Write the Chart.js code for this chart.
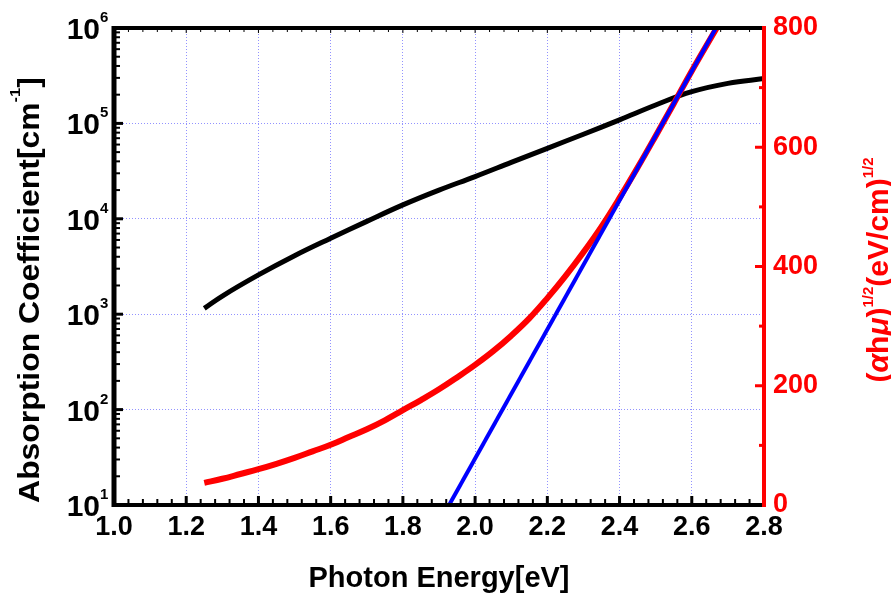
<!DOCTYPE html>
<html>
<head>
<meta charset="utf-8">
<script src="https://cdn.jsdelivr.net/npm/chart.js@4.4.0/dist/chart.umd.min.js"></script>
<style>
  body { margin: 0; background: #fff; }
  canvas { display: block; }
</style>
</head>
<body>
<canvas id="myChart" width="891" height="599"></canvas>
<script>
// tick labels
var xTicks = [1.0, 1.2, 1.4, 1.6, 1.8, 2.0, 2.2, 2.4, 2.6, 2.8];
var leftExponents = [1, 2, 3, 4, 5, 6];
var rightTicks = [0, 200, 400, 600, 800];

// absorption coefficient (left, log axis)
var absEnergy = [1.25, 1.3, 1.4, 1.5, 1.6, 1.7, 1.8, 1.9, 2.0, 2.1, 2.2, 2.3, 2.4, 2.5, 2.6, 2.7, 2.8];
var absCoeff = [1.15e3, 1.55e3, 2.58e3, 4.1e3, 6.25e3, 9.4e3, 1.40e4, 2.0e4, 2.77e4, 3.9e4, 5.48e4, 7.7e4, 1.09e5, 1.56e5, 2.15e5, 2.63e5, 2.95e5];

// (ahv)^1/2 (right axis)
var taucEnergy = [1.25, 1.3, 1.35, 1.4, 1.45, 1.5, 1.55, 1.6, 1.65, 1.7, 1.75, 1.8, 1.85, 1.9, 1.95, 2.0,
    2.05, 2.1, 2.15, 2.2, 2.25, 2.3, 2.35, 2.4, 2.45, 2.5, 2.55, 2.6, 2.669];
var taucValue = [37, 44, 52, 60, 69, 79, 90, 101, 114, 127, 142, 159, 176, 194, 214, 235,
    258, 284, 313, 347, 384, 424, 467, 515, 566, 619, 673, 728, 800];

// linear fit
var fitEnergy = [1.928, 2.667];
var fitValue = [0, 800];

var FONT = '"Liberation Sans", Arial, sans-serif';
var GRID = 'rgba(110,110,255,0.75)';

function pts(xs, ys) {
    var out = [];
    for (var i = 0; i < xs.length; i++) out.push({ x: xs[i], y: ys[i] });
    return out;
}

function drawSegments(ctx, segs) {
    var total = 0;
    segs.forEach(function (s) { ctx.font = s.f; s.w = ctx.measureText(s.t).width; total += s.w; });
    var x = -total / 2;
    segs.forEach(function (s) {
        ctx.font = s.f;
        ctx.fillText(s.t, x, s.dy || 0);
        x += s.w;
    });
}

var framePlugin = {
    id: 'frame',
    afterDatasetsDraw: function (chart) {
        var ctx = chart.ctx, a = chart.chartArea;
        var sx = chart.scales.x, yl = chart.scales.y, yr = chart.scales.y2;
        ctx.save();
        function tick(x1, y1, x2, y2, w) {
            ctx.lineWidth = w;
            ctx.beginPath(); ctx.moveTo(x1, y1); ctx.lineTo(x2, y2); ctx.stroke();
        }
        ctx.strokeStyle = '#000';
        // x ticks (inside)
        for (var i = 0; i <= 45; i++) {
            var px = sx.getPixelForValue(1 + i * 0.04);
            var major = i % 5 === 0;
            tick(px, a.bottom, px, a.bottom - (major ? 9 : 6), major ? 3 : 2);
            tick(px, a.top, px, a.top + (major ? 5 : 4), 1);
        }
        // left log ticks
        for (var n = 1; n <= 5; n++) {
            for (var m = 1; m <= 9; m++) {
                var py = yl.getPixelForValue(m * Math.pow(10, n));
                tick(a.left, py, a.left + (m === 1 ? 9 : 6), py, m === 1 ? 3 : 2);
            }
        }
        // right ticks
        ctx.strokeStyle = '#ff0000';
        for (var v = 0; v <= 800; v += 100) {
            var pr = yr.getPixelForValue(v);
            tick(a.right, pr, a.right - (v % 200 === 0 ? 9 : 5), pr, 3);
        }
        // frame
        ctx.strokeStyle = '#000';
        tick(a.left - 2, a.top, a.right, a.top, 4);
        tick(a.left - 2, a.bottom, a.right, a.bottom, 4);
        tick(a.left, a.top - 2, a.left, a.bottom + 2, 5);
        ctx.strokeStyle = '#ff0000';
        tick(a.right, a.top - 2, a.right, a.bottom + 2, 4);
        ctx.restore();
    },
    afterDraw: function (chart) {
        var ctx = chart.ctx, a = chart.chartArea;
        var yl = chart.scales.y;
        ctx.save();
        ctx.textBaseline = 'alphabetic';
        ctx.fillStyle = '#000';
        // left tick labels 10^n
        leftExponents.forEach(function (n) {
            var py = yl.getPixelForValue(Math.pow(10, n));
            ctx.font = 'bold 30px ' + FONT;
            ctx.textAlign = 'right';
            ctx.fillText('10', a.left - 14, py + 11);
            ctx.font = 'bold 15px ' + FONT;
            ctx.textAlign = 'left';
            ctx.fillText(String(n), a.left - 14, py - 6);
        });
        ctx.textAlign = 'left';
        // left title
        ctx.save();
        ctx.translate(39, 290);
        ctx.rotate(-Math.PI / 2);
        ctx.scale(1.1, 1);
        drawSegments(ctx, [
            { t: 'Absorption Coefficient[cm', f: 'bold 29px ' + FONT },
            { t: '-1', f: 'bold 15px ' + FONT, dy: -19 },
            { t: ']', f: 'bold 29px ' + FONT }
        ]);
        ctx.restore();
        // right title
        ctx.save();
        ctx.fillStyle = '#ff0000';
        ctx.translate(888, 270);
        ctx.rotate(-Math.PI / 2);
        var mf = 'bold 30px ' + FONT, gf = 'italic bold 30px ' + FONT, sf = 'bold 15px ' + FONT;
        drawSegments(ctx, [
            { t: '(', f: mf }, { t: 'α', f: gf }, { t: 'h', f: mf }, { t: 'μ', f: gf }, { t: ')', f: mf },
            { t: '1/2', f: sf, dy: -15 },
            { t: '(eV/cm)', f: mf },
            { t: '1/2', f: sf, dy: -15 }
        ]);
        ctx.restore();
        // x title
        ctx.save();
        ctx.translate((a.left + a.right) / 2, 587);
        drawSegments(ctx, [{ t: 'Photon Energy[eV]', f: 'bold 29px ' + FONT }]);
        ctx.restore();
        ctx.restore();
    }
};

function gridColor(c) {
    var t = c.tick;
    if (!t) return GRID;
    var s = c.scale;
    if (t.value <= s.min + 1e-9 || t.value >= s.max - 1e-9) return 'rgba(0,0,0,0)';
    return GRID;
}

var ctx = document.getElementById("myChart");
var myChart = new Chart(ctx, {
    type: 'line',
    data: {
        datasets: [{
            label: 'Linear fit',
            data: pts(fitEnergy, fitValue),
            yAxisID: 'y2',
            borderColor: '#0000ff',
            borderWidth: 4,
            pointRadius: 0,
            order: 0
        }, {
            label: '(ahv)^1/2',
            data: pts(taucEnergy, taucValue),
            yAxisID: 'y2',
            borderColor: '#ff0000',
            borderWidth: 6,
            pointRadius: 0,
            tension: 0.4,
            order: 1
        }, {
            label: 'Absorption Coefficient',
            data: pts(absEnergy, absCoeff),
            yAxisID: 'y',
            borderColor: '#000000',
            borderWidth: 5,
            pointRadius: 0,
            tension: 0.4,
            order: 2
        }]
    },
    options: {
        responsive: false,
        animation: false,
        devicePixelRatio: 1,
        layout: { padding: { top: 28, left: 0, right: 0, bottom: 0 } },
        plugins: {
            legend: { display: false },
            tooltip: { enabled: false }
        },
        scales: {
            x: {
                type: 'linear',
                min: 1.0,
                max: 2.8,
                afterBuildTicks: function (s) { s.ticks = xTicks.map(function (v) { return { value: v }; }); },
                ticks: {
                    callback: function (v) { return Number(v).toFixed(1); },
                    font: { family: FONT, size: 27, weight: 'bold' },
                    color: '#000',
                    padding: 6,
                    maxRotation: 0,
                    autoSkip: false
                },
                grid: { color: gridColor, lineWidth: 1, drawTicks: false },
                border: { display: false, dash: [1, 2] },
                afterFit: function (s) { s.height = 94; }
            },
            y: {
                type: 'logarithmic',
                position: 'left',
                min: 10,
                max: 1e6,
                afterBuildTicks: function (s) { s.ticks = leftExponents.map(function (n) { return { value: Math.pow(10, n) }; }); },
                ticks: { callback: function () { return ''; } },
                grid: { color: gridColor, lineWidth: 1, drawTicks: false },
                border: { display: false, dash: [1, 2] },
                afterFit: function (s) { s.width = 114; }
            },
            y2: {
                type: 'linear',
                position: 'right',
                min: 0,
                max: 800,
                afterBuildTicks: function (s) { s.ticks = rightTicks.map(function (v) { return { value: v }; }); },
                ticks: {
                    color: '#ff0000',
                    font: { family: FONT, size: 27, weight: 'bold' },
                    padding: 9
                },
                grid: { drawOnChartArea: false, drawTicks: false },
                border: { display: false },
                afterFit: function (s) { s.width = 127; }
            }
        }
    },
    plugins: [framePlugin]
});
</script>
</body>
</html>
